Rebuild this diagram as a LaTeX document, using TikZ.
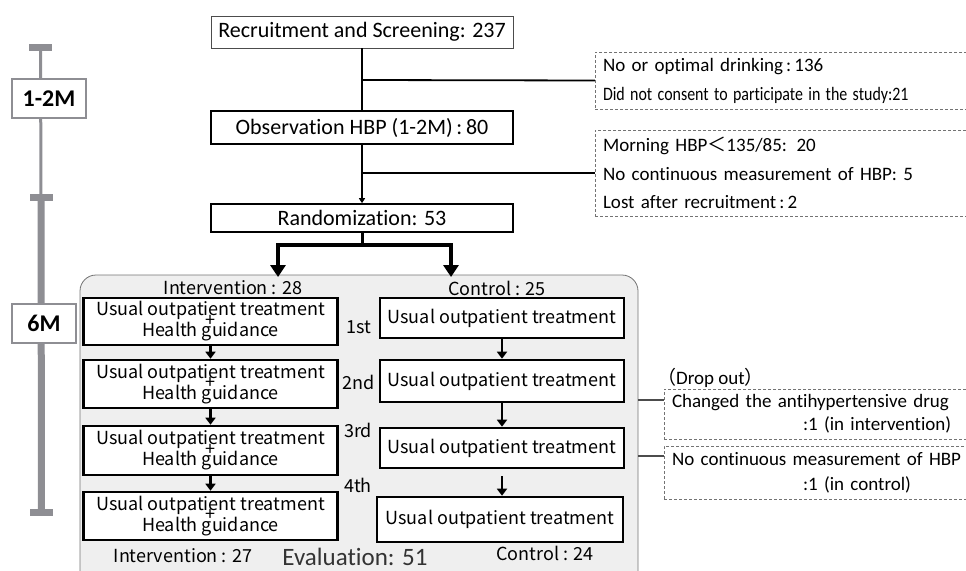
\documentclass[tikz,border=0pt]{standalone}
\usepackage{graphicx}
\usepackage{fontspec}
\setmainfont{Carlito}[Ligatures={NoCommon}]
\newfontfamily\jfont{Noto Sans CJK JP}
\usetikzlibrary{arrows.meta}

\definecolor{bargray}{HTML}{8E8E93}
\definecolor{panelgray}{HTML}{EFEFEF}

\tikzset{
  tlcap/.style={fill=bargray,minimum width=23pt,minimum height=7pt,inner sep=0pt},
  tlbox/.style={draw=bargray,line width=2pt,fill=white,font=\fontsize{24}{28}\selectfont\bfseries,inner sep=0pt},
  flowbox/.style={draw,fill=white,minimum width=302pt,inner sep=0pt,font=\fontsize{22}{26}\selectfont},
  notebox/.style={draw=black!55,densely dashed,line width=0.5pt,fill=white,minimum width=385pt,
    text width=369pt,align=left,inner xsep=8pt,font=\fontsize{19}{29}\selectfont},
  dropbox/.style={notebox,minimum width=316pt,text width=300pt},
  ibox/.style={draw,line width=2.6pt,fill=white,minimum width=254pt,inner sep=0pt,align=center,
    font=\jfont\fontsize{18}{21}\selectfont,label={[font=\jfont\fontsize{18}{21}\selectfont,yshift=1pt]center:+}},
  cbox/.style={draw,line width=2.6pt,fill=white,minimum width=244pt,inner sep=0pt,
    font=\jfont\fontsize{18}{21}\selectfont},
  jtext/.style={font=\jfont\fontsize{18}{21}\selectfont,inner sep=0pt},
  smallarr/.style={line width=2.2pt,-{Triangle[width=10pt,length=7pt]}},
  bigarr/.style={line width=3.5pt,-{Triangle[width=15pt,length=12pt]}}
}

\begin{document}
\begin{tikzpicture}[x=1pt,y=-1pt]
\useasboundingbox (0,0) rectangle (966,570);

% time line
\node[tlcap] (capA) at (40.5,47.5) {};
\node[tlcap] (capB) at (41,197.5) {};
\node[tlcap] (capC) at (41.5,512.5) {};
\draw[bargray,line width=3pt] (capA) -- (capB);
\draw[bargray,line width=7pt] (capB) -- (capC);
\node[tlbox,minimum width=74pt,minimum height=39pt] (tlA) at (49,98.5) {1-2M};
\node[tlbox,minimum width=64pt,minimum height=39pt] (tlB) at (44,323.5) {6M};

% flow
\node[flowbox,draw=black!70,line width=0.8pt,minimum height=32pt] (recruit) at (362,32) {Recruitment and Screening: 237};
\node[flowbox,line width=1.4pt,minimum height=33pt] (obs) at (362,127.5) {Observation HBP (1-2M)\,:\,80};
\node[flowbox,line width=1.6pt,minimum height=28pt] (rand) at (362,218) {Randomization: 53};

\node[notebox,minimum height=57pt] (exA) at (787.5,80.5)
  {No or optimal drinking\,:\,136\\\scalebox{0.84}[1]{Did not consent to participate in the study:21}};
\node[notebox,minimum height=86pt,font=\fontsize{19}{28.5}\selectfont] (exB) at (787.5,173)
  {Morning HBP{\jfont ＜}135/85: 20\\No continuous measurement of HBP: 5\\Lost after recruitment\,:\,2};

\coordinate (bA) at (362,80);
\coordinate (bB) at (362,173);
\draw[line width=1.8pt] (recruit) -- (obs);
\draw[line width=1.8pt] (bA) -- (exA.west);
\draw[line width=1.8pt,-{Triangle[width=6pt,length=5pt]}] (obs) -- (rand);
\draw[line width=1.8pt] (bB) -- (exB.west);

% trial panel
\node[draw=black!55,line width=0.8pt,fill=panelgray,rounded corners=16pt,
  minimum width=558pt,minimum height=320pt,inner sep=0pt] (panel) at (359,435) {};

\coordinate (sp) at (362,245);
\coordinate (armI) at (278,277);
\coordinate (armC) at (451,277);
\draw[line width=3pt] (rand) -- (sp);
\draw[bigarr] (sp) -| (armI);
\draw[bigarr] (sp) -| (armC);

\node[jtext] (intA) at (233,288) {Intervention : 28};
\node[jtext] (conA) at (497,288) {Control : 25};

\node[ibox,minimum height=47pt] (i1) at (210.5,321.5) {Usual outpatient treatment\\Health guidance};
\node[ibox,minimum height=48pt] (i2) at (210.5,384) {Usual outpatient treatment\\Health guidance};
\node[ibox,minimum height=49pt] (i3) at (210.5,450.5) {Usual outpatient treatment\\Health guidance};
\node[ibox,minimum height=48pt] (i4) at (210.5,516) {Usual outpatient treatment\\Health guidance};

\node[cbox,minimum height=40pt] (c1) at (502,318) {Usual outpatient treatment};
\node[cbox,minimum height=42pt] (c2) at (502,381) {Usual outpatient treatment};
\node[cbox,minimum height=40pt] (c3) at (502,448) {Usual outpatient treatment};
\node[cbox,minimum height=45pt,minimum width=246pt] (c4) at (500,519.5) {Usual outpatient treatment};

\draw[smallarr] (i1) -- (i2);
\draw[smallarr] (i2) -- (i3);
\draw[smallarr] (i3) -- (i4);
\draw[smallarr] (c1) -- (c2);
\draw[smallarr] (c2) -- (c3);
\draw[smallarr] ([yshift=-7pt]c3.south) -- (c4.north -| c3.south);

\node[jtext] (v1) at (359,327) {1st};
\node[jtext] (v2) at (359,382) {2nd};
\node[jtext] (v3) at (358,430) {3rd};
\node[jtext] (v4) at (358,485) {4th};

\node[jtext] (intB) at (183,556) {Intervention : 27};
\node[inner sep=0pt,text=black!80,font=\fontsize{25}{29}\selectfont] (evalN) at (355,557) {Evaluation: 51};
\node[jtext] (conB) at (545,553) {Control : 24};

% drop out
\node[anchor=west,inner sep=0pt,font=\fontsize{19}{24}\selectfont] (dropT) at (657,378)
  {{\jfont （}Drop out{\jfont ）}};
\node[dropbox,minimum height=50pt,font=\fontsize{19}{23}\selectfont] (dropA) at (822,414)
  {Changed the antihypertensive drug\\\hspace*{131pt}:1 (in intervention)};
\node[dropbox,minimum height=53pt,font=\fontsize{19}{25}\selectfont] (dropB) at (822,472.5)
  {No continuous measurement of HBP\\\hspace*{131pt}:1 (in control)};
\coordinate (dA) at (638,400);
\coordinate (dB) at (638,456);
\draw[black!70,line width=1.2pt] (dA) -- (dA -| dropA.west);
\draw[black!70,line width=1.2pt] (dB) -- (dB -| dropB.west);
\end{tikzpicture}
\end{document}
